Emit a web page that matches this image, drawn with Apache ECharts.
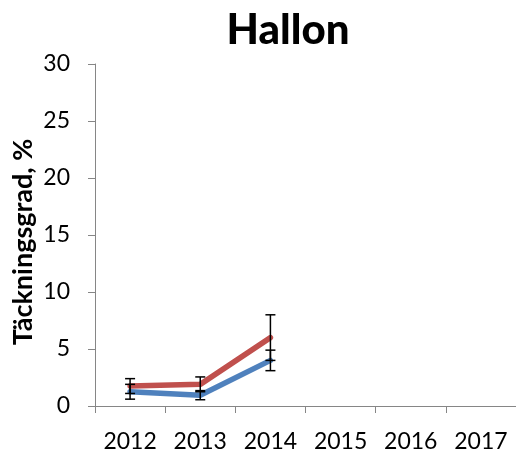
<!DOCTYPE html>
<html>
<head>
<meta charset="utf-8">
<script src="https://cdn.jsdelivr.net/npm/echarts@6/dist/echarts.min.js"></script>
<style>
html,body{margin:0;padding:0;background:#fff;}
#chart{width:516px;height:455px;}
</style>
</head>
<body>
<div id="chart"></div>
<script>
const titleText = 'Hallon';
const yAxisTitle = 'Täckningsgrad, %';
const years = ['2012', '2013', '2014', '2015', '2016', '2017'];
const redValues = [1.75, 1.9, 6.0];
const redErrors = [0.65, 0.65, 2.0];
const blueValues = [1.25, 0.95, 4.0];
const blueErrors = [0.65, 0.4, 0.9];
const yTicks = [0, 5, 10, 15, 20, 25, 30];

const font = 'Lato, "Open Sans", sans-serif';

function errData(vals, errs) {
  return vals.map((v, i) => [i, v - errs[i], v + errs[i]]);
}

function renderErr(params, api) {
  const x = api.value(0);
  const lo = api.coord([x, api.value(1)]);
  const hi = api.coord([x, api.value(2)]);
  const hw = 5;
  const style = { stroke: '#000', lineWidth: 1.5 };
  return {
    type: 'group',
    children: [
      { type: 'line', shape: { x1: hi[0], y1: hi[1], x2: lo[0], y2: lo[1] }, style },
      { type: 'line', shape: { x1: hi[0] - hw, y1: hi[1], x2: hi[0] + hw, y2: hi[1] }, style },
      { type: 'line', shape: { x1: lo[0] - hw, y1: lo[1], x2: lo[0] + hw, y2: lo[1] }, style }
    ]
  };
}

const chart = echarts.init(document.getElementById('chart'), null, { renderer: 'canvas' });
chart.setOption({
  animation: false,
  backgroundColor: '#fff',
  title: {
    text: titleText,
    left: 283, textAlign: 'center',
    top: 4,
    textStyle: { fontFamily: font, fontWeight: 900, fontSize: 42, color: '#000' }
  },
  graphic: [{
    type: 'text',
    x: 23, y: 242,
    rotation: Math.PI / 2,
    style: {
      text: yAxisTitle,
      fontFamily: font, fontWeight: 'bold', fontSize: 27, fill: '#000',
      align: 'center', verticalAlign: 'middle'
    }
  }],
  grid: { left: 95, top: 64, right: 0, bottom: 49, containLabel: false },
  xAxis: {
    type: 'category',
    data: years,
    boundaryGap: true,
    axisLine: { lineStyle: { color: '#868686', width: 1 } },
    axisTick: { show: true, length: 7, alignWithLabel: false, lineStyle: { color: '#868686' } },
    axisLabel: { margin: 24, fontFamily: font, fontSize: 23, color: '#000' },
    splitLine: { show: false }
  },
  yAxis: {
    type: 'value',
    min: yTicks[0], max: yTicks[yTicks.length - 1], interval: 5,
    axisLine: { show: true, lineStyle: { color: '#868686', width: 1 } },
    axisTick: { show: true, length: 7, lineStyle: { color: '#868686' } },
    axisLabel: { margin: 25, fontFamily: font, fontSize: 23, color: '#000' },
    splitLine: { show: false }
  },
  series: [
    {
      name: 'blue', type: 'line', data: blueValues, showSymbol: false, symbol: 'none',
      lineStyle: { color: '#4F81BD', width: 5.5, cap: 'round', join: 'round' }, z: 2
    },
    {
      name: 'red', type: 'line', data: redValues, showSymbol: false, symbol: 'none',
      lineStyle: { color: '#C0504D', width: 5.5, cap: 'round', join: 'round' }, z: 2
    },
    { type: 'custom', renderItem: renderErr, data: errData(blueValues, blueErrors), z: 3,
      encode: { x: 0, y: [1, 2] } },
    { type: 'custom', renderItem: renderErr, data: errData(redValues, redErrors), z: 3,
      encode: { x: 0, y: [1, 2] } }
  ]
});
</script>
</body>
</html>
